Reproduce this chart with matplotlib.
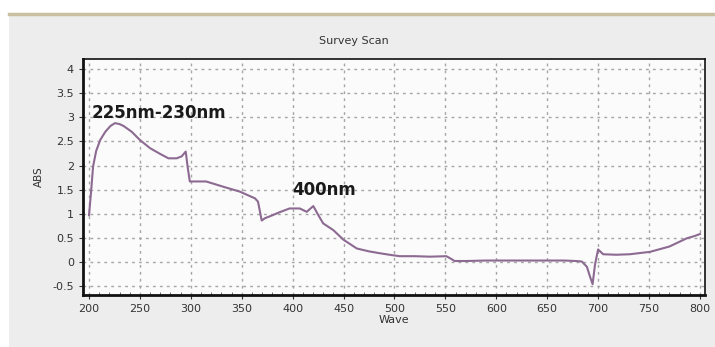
import matplotlib
matplotlib.use("Agg")
import matplotlib.pyplot as plt
from matplotlib.lines import Line2D
from matplotlib.patches import Rectangle
from matplotlib.ticker import MultipleLocator

# Data (wavelength nm, absorbance)
wave = [200, 202, 204, 207, 211, 216, 221, 225.5, 230, 234, 242, 250, 260, 270, 278, 286,
        291, 295, 297, 299, 305, 315, 332, 348, 363, 366, 369.6, 373, 378, 387, 397,
        407, 413.8, 420.3, 425, 430, 440, 450, 463, 475, 486, 495, 505, 520, 535, 551,
        556, 559, 570, 590, 604, 623, 645, 667, 678, 684, 689, 692, 694.6, 697, 700,
        705, 718, 731, 751, 770, 787, 795, 800]
absorb = [0.97, 1.45, 1.98, 2.30, 2.53, 2.70, 2.82, 2.88, 2.86, 2.82, 2.70, 2.53, 2.36, 2.24, 2.15, 2.15,
          2.19, 2.29, 1.95, 1.67, 1.67, 1.67, 1.56, 1.46, 1.32, 1.25, 0.86, 0.91, 0.95, 1.03, 1.11,
          1.11, 1.04, 1.16, 0.98, 0.80, 0.66, 0.46, 0.28, 0.22, 0.18, 0.15, 0.12, 0.12, 0.11, 0.12,
          0.06, 0.02, 0.02, 0.03, 0.03, 0.03, 0.03, 0.03, 0.02, 0.01, -0.10, -0.30, -0.46, -0.05, 0.26,
          0.16, 0.15, 0.16, 0.21, 0.32, 0.49, 0.54, 0.58]

x_ticks = [200, 250, 300, 350, 400, 450, 500, 550, 600, 650, 700, 750, 800]
y_ticks = [-0.5, 0, 0.5, 1, 1.5, 2, 2.5, 3, 3.5, 4]
y_tick_labels = ["-0.5", "0", "0.5", "1", "1.5", "2", "2.5", "3", "3.5", "4"]
annotations = [("225nm-230nm", 203, 3.09), ("400nm", 400, 1.49)]

fig = plt.figure(figsize=(7.15, 3.47), dpi=100)
fig.patch.set_facecolor("white")

# panel background and top border
fig.add_artist(Rectangle((9/715, 0), 1 - 9/715, 1 - 15/347, transform=fig.transFigure,
                         facecolor="#ededed", edgecolor="none", zorder=-10))
fig.add_artist(Line2D([9/715, 1], [1 - 14/347, 1 - 14/347], transform=fig.transFigure,
                      color="#c8c0a0", linewidth=2.5, zorder=-5))

ax = fig.add_axes([83/715, 1 - 295/347, (705 - 83)/715, (295 - 59)/347])
ax.set_facecolor("#fbfbfb")

ax.plot(wave, absorb, color="#8c6a91", linewidth=1.5, zorder=3)

ax.set_xlim(194.1, 805)
ax.set_ylim(-0.685, 4.21)
ax.set_xticks(x_ticks)
ax.set_yticks(y_ticks)
ax.set_yticklabels(y_tick_labels)
ax.xaxis.set_minor_locator(MultipleLocator(10))

ax.grid(True, which="major", color="#a5a5a5", linestyle=(0, (2, 3)), linewidth=1)
ax.tick_params(axis="both", which="major", labelsize=8, labelcolor="#333333",
               color="#333333", length=3, direction="out")
ax.tick_params(axis="x", which="minor", length=2.5, direction="in", color="#555555")

for s in ax.spines.values():
    s.set_color("#111111")
    s.set_linewidth(1.2)
ax.spines["left"].set_linewidth(2)
ax.spines["bottom"].set_linewidth(2)

fig.text(354/715, 1 - 41/347, "Survey Scan", fontsize=8, color="#333333",
         ha="center", va="center")
ax.set_xlabel("Wave", fontsize=8, color="#333333", labelpad=1)
ax.set_ylabel("ABS", fontsize=7.5, color="#333333", labelpad=6)

for txt, xx, yy in annotations:
    ax.text(xx, yy, txt, fontsize=12, fontweight="bold", color="#1a1a1a",
            ha="left", va="center", zorder=4)

fig.savefig("out.png", dpi=100, facecolor=fig.get_facecolor())
